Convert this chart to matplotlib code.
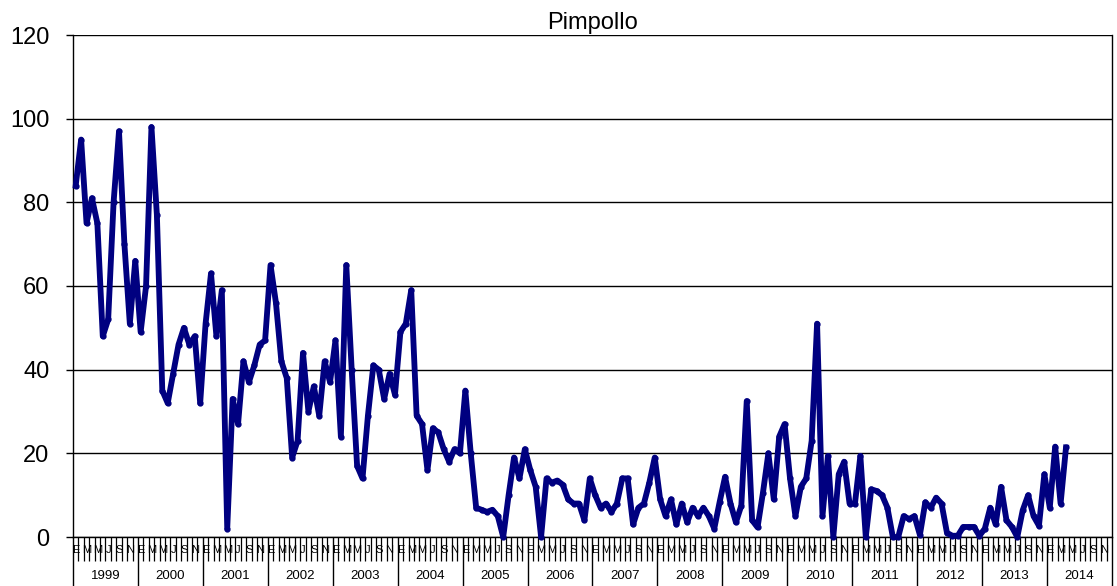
import numpy as np
import matplotlib
matplotlib.use("Agg")
import matplotlib.pyplot as plt
import matplotlib.transforms as mtransforms

plt.rcParams['font.family'] = ['Liberation Sans', 'DejaVu Sans']

title = "Pimpollo"
years = ["1999", "2000", "2001", "2002", "2003", "2004", "2005", "2006",
         "2007", "2008", "2009", "2010", "2011", "2012", "2013", "2014"]
month_letters = ["E", "F", "M", "A", "M", "J", "J", "A", "S", "O", "N", "D"]

v1999 = [84, 95, 75, 81, 75, 48, 52, 80, 97, 70, 51, 66]
v2000 = [49, 60, 98, 77, 35, 32, 39, 46, 50, 46, 48, 32]
v2001 = [51, 63, 48, 59, 2, 33, 27, 42, 37, 41, 46, 47]
v2002 = [65, 56, 42, 38, 19, 23, 44, 30, 36, 29, 42, 37]
v2003 = [47, 24, 65, 40, 17, 14, 29, 41, 40, 33, 39, 34]
v2004 = [49, 51, 59, 29, 27, 16, 26, 25, 21, 18, 21, 20]
v2005 = [35, 20, 7, 6.5, 6, 6.5, 5, 0, 10, 19, 14, 21]
v2006 = [16, 12, 0, 14, 13, 13.5, 12.5, 9, 8, 8, 4, 14]
v2007 = [10, 7, 8, 6, 8, 14, 14, 3, 7, 8, 13, 19]
v2008 = [9, 5, 9, 3, 8, 3.5, 7, 5, 7, 5, 2, 8.4]
v2009 = [14.4, 8, 3.5, 7.5, 32.5, 4, 2.3, 10.6, 20, 9, 24, 27]
v2010 = [14, 5, 12, 14, 23, 51, 5, 19.4, 0, 15, 18, 8]
v2011 = [8, 19.4, 0, 11.4, 11, 10, 7, 0, 0, 5, 4.3, 5]
v2012 = [0.5, 8.3, 7, 9.4, 8, 1, 0.3, 0.3, 2.4, 2.4, 2.4, 0.3]
v2013 = [2, 7, 3, 12, 4, 2.4, 0, 6.4, 10, 5, 2.7, 15]
v2014 = [7, 21.6, 8, 21.4]

values = (v1999 + v2000 + v2001 + v2002 + v2003 + v2004 + v2005 + v2006 +
          v2007 + v2008 + v2009 + v2010 + v2011 + v2012 + v2013 + v2014)
n_months = 12 * len(years)
x = np.arange(len(values))

fig = plt.figure(figsize=(11.17, 5.86), dpi=100)
ax = fig.add_axes([73 / 1117, 1 - 537 / 586, (1112 - 73) / 1117, (537 - 35) / 586])

ax.plot(x, values, color="#000080", lw=4.2, marker="o", markersize=3.5,
        solid_joinstyle="round", zorder=3, clip_on=False)

ax.set_xlim(-0.5, n_months - 0.5)
ax.set_ylim(0, 120)
ax.set_yticks(np.arange(0, 121, 20))
ax.yaxis.grid(True, color="black", lw=1.0)
ax.set_axisbelow(True)
ax.tick_params(axis="y", direction="out", length=5, width=1, labelsize=17, pad=12)

ax.spines["top"].set_visible(False)
for s in ["left", "bottom", "right"]:
    ax.spines[s].set_color("black")
    ax.spines[s].set_linewidth(1.0)

# month boundary ticks and year separators
ax.set_xticks(np.arange(0, n_months + 1, 12) - 0.5)
ax.set_xticklabels([])
ax.set_xticks(np.arange(0, n_months + 1) - 0.5, minor=True)
ax.tick_params(axis="x", which="major", direction="out", length=36, width=1.0)
ax.tick_params(axis="x", which="minor", direction="out", length=17, width=0.9)

trans = mtransforms.blended_transform_factory(ax.transData, ax.transAxes)
for i in range(n_months):
    m = i % 12
    if m % 2 == 0:
        ax.text(i, -0.026, month_letters[m], transform=trans, ha="center", va="center",
                fontsize=8, family=["Liberation Sans Narrow", "Liberation Sans", "DejaVu Sans"])
for k, yr in enumerate(years):
    ax.text(12 * k + 5.5, -0.077, yr, transform=trans, ha="center", va="center", fontsize=9.5)

ax.set_title(title, fontsize=17, pad=4)

fig.savefig("out.png", dpi=100)
